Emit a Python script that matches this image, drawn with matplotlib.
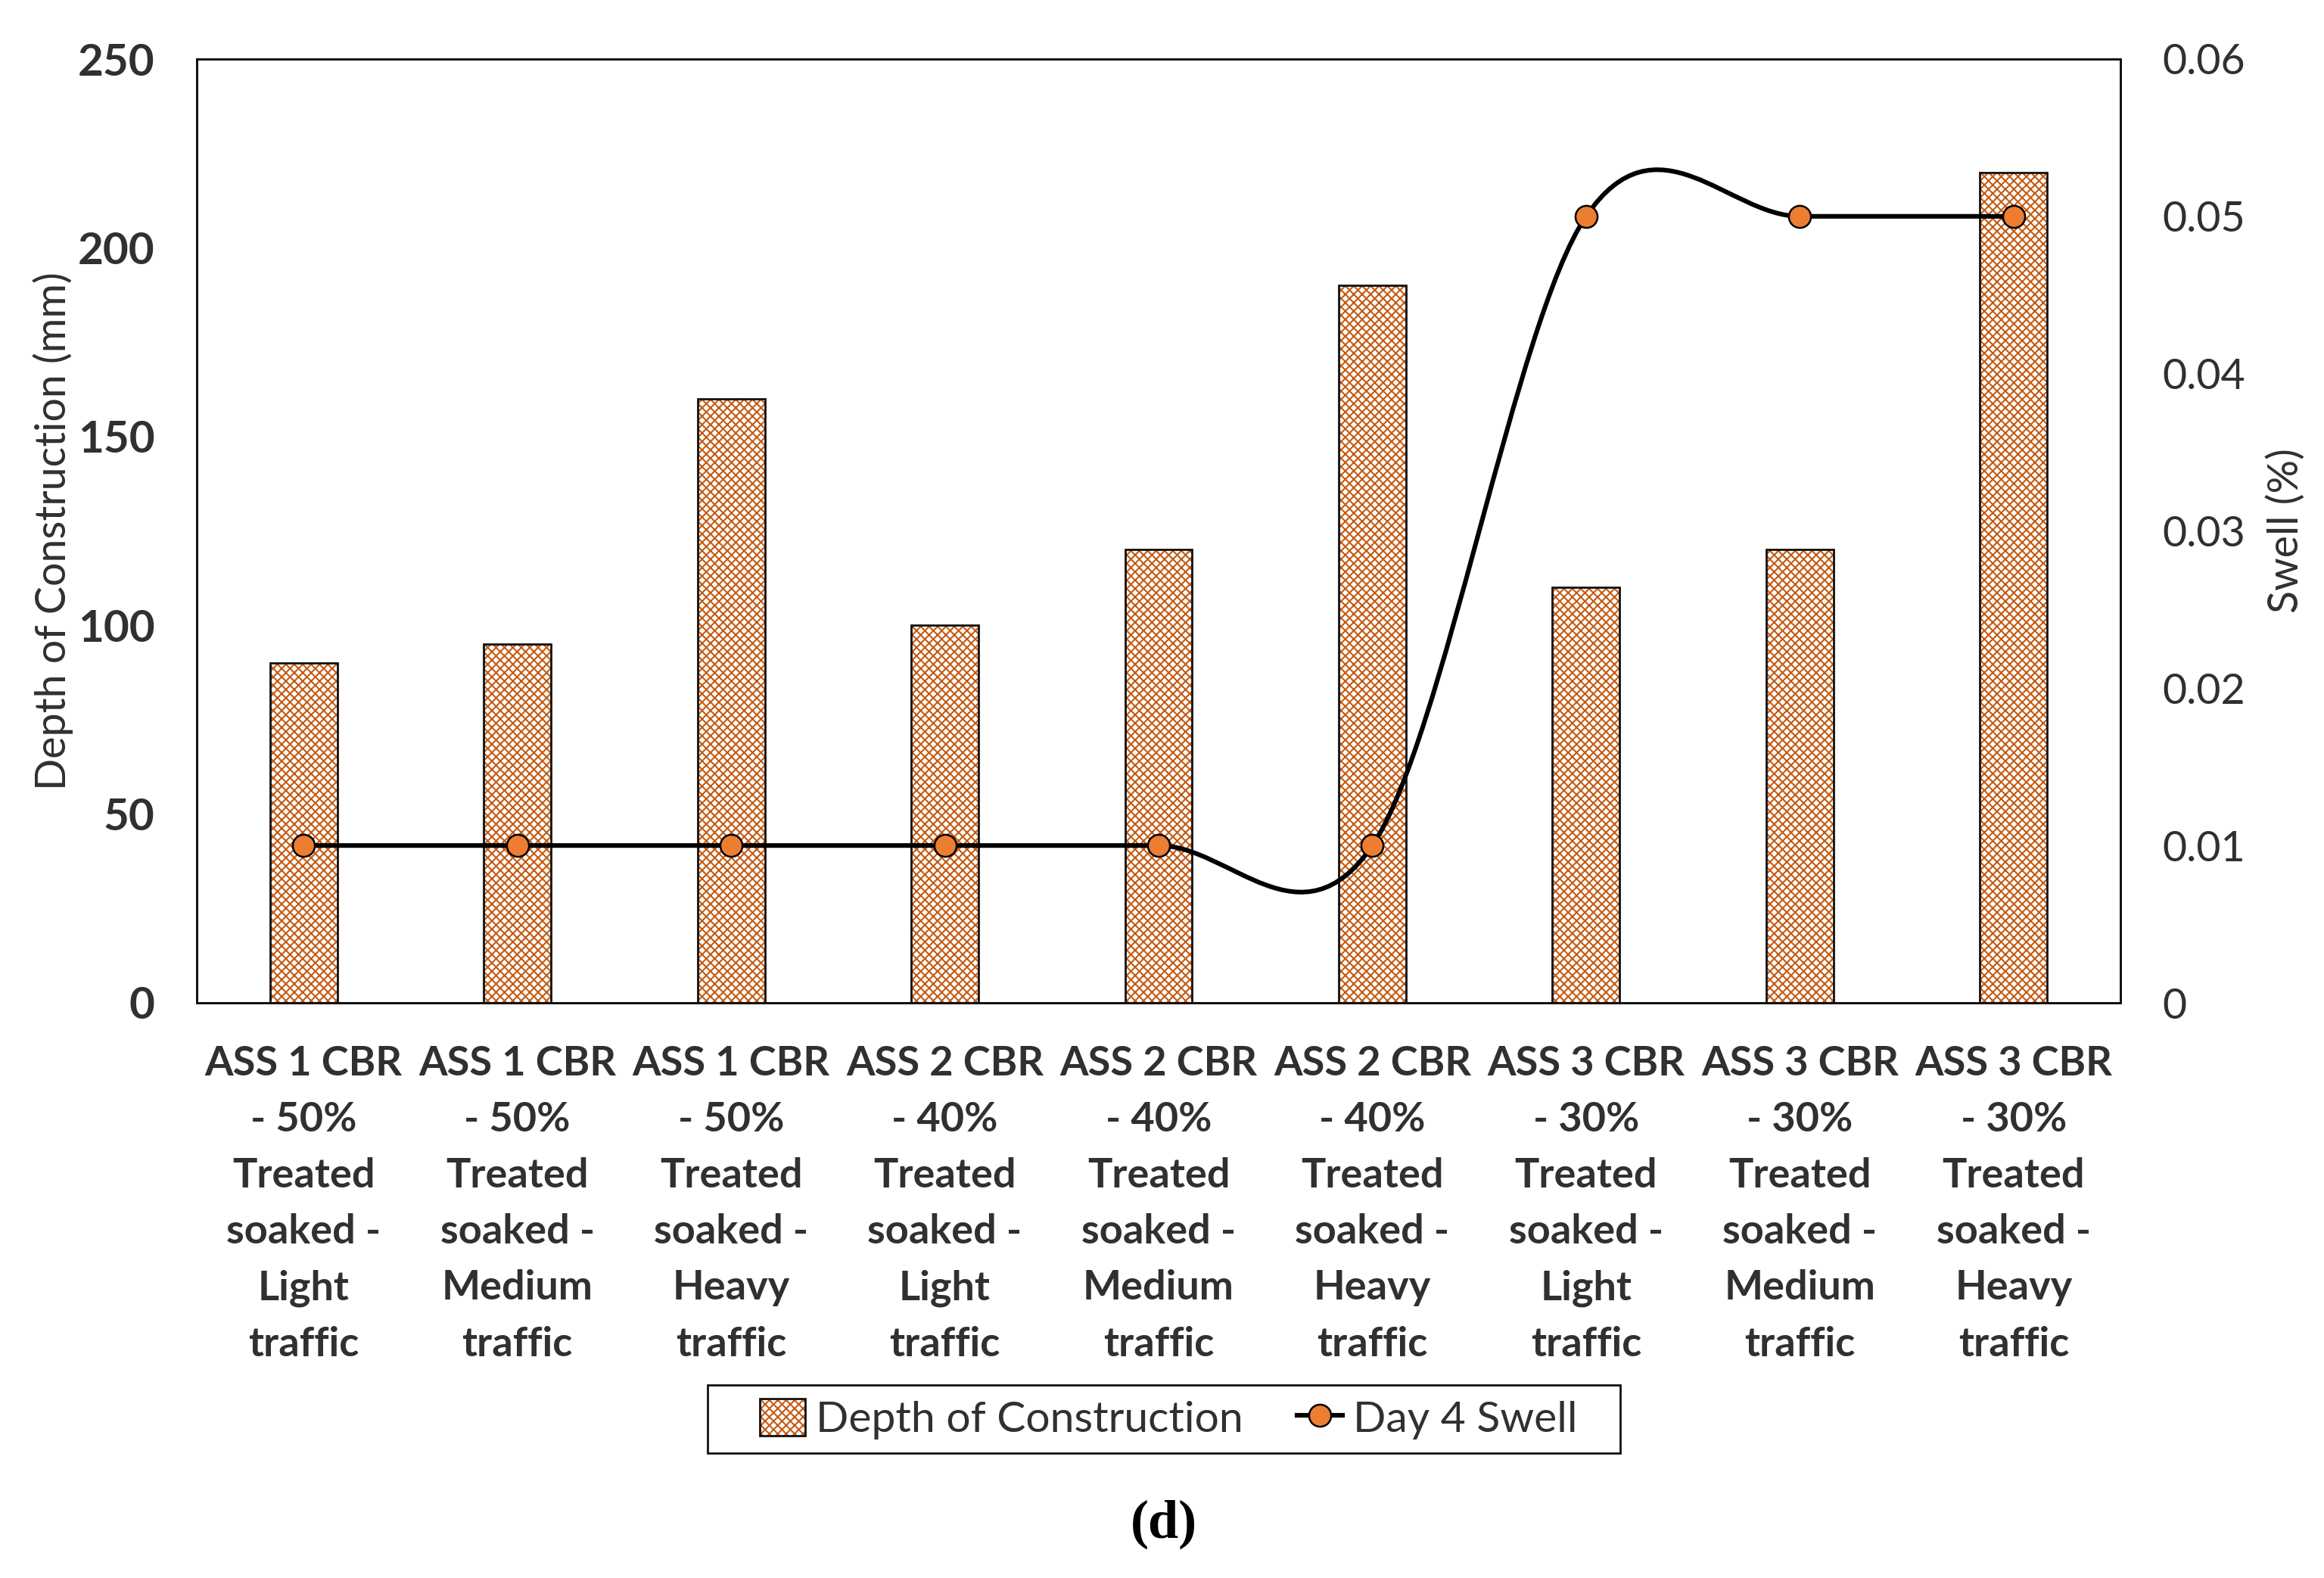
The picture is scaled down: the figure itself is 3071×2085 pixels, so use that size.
import matplotlib
matplotlib.use("Agg")
import matplotlib.pyplot as plt
from matplotlib.path import Path
from matplotlib.patches import PathPatch, Patch, Rectangle
from matplotlib.lines import Line2D
from matplotlib.legend_handler import HandlerTuple

categories = [
    "ASS 1 CBR\n- 50%\nTreated\nsoaked -\nLight\ntraffic",
    "ASS 1 CBR\n- 50%\nTreated\nsoaked -\nMedium\ntraffic",
    "ASS 1 CBR\n- 50%\nTreated\nsoaked -\nHeavy\ntraffic",
    "ASS 2 CBR\n- 40%\nTreated\nsoaked -\nLight\ntraffic",
    "ASS 2 CBR\n- 40%\nTreated\nsoaked -\nMedium\ntraffic",
    "ASS 2 CBR\n- 40%\nTreated\nsoaked -\nHeavy\ntraffic",
    "ASS 3 CBR\n- 30%\nTreated\nsoaked -\nLight\ntraffic",
    "ASS 3 CBR\n- 30%\nTreated\nsoaked -\nMedium\ntraffic",
    "ASS 3 CBR\n- 30%\nTreated\nsoaked -\nHeavy\ntraffic",
]
depth = [90, 95, 160, 100, 120, 190, 110, 120, 220]
swell = [0.01, 0.01, 0.01, 0.01, 0.01, 0.01, 0.05, 0.05, 0.05]
depth_ticks = [0, 50, 100, 150, 200, 250]
swell_ticks = [0, 0.01, 0.02, 0.03, 0.04, 0.05, 0.06]
swell_tick_labels = ["0", "0.01", "0.02", "0.03", "0.04", "0.05", "0.06"]

TXT = "#303030"
ORANGE = "#C55A11"
MARKER = "#ED7D31"
W, H = 3071, 2085
plt.rcParams["font.family"] = ["Lato", "DejaVu Sans"]
plt.rcParams["hatch.linewidth"] = 0.75


def smooth_path(xs, ys):
    # Excel-style smoothed line: cubic Bezier segments, Catmull-Rom tangents
    n = len(xs)
    verts = [(xs[0], ys[0])]
    codes = [Path.MOVETO]
    for i in range(n - 1):
        ip = max(i - 1, 0)
        inx = min(i + 2, n - 1)
        t0x = (xs[i + 1] - xs[ip]) / 2.0
        t0y = (ys[i + 1] - ys[ip]) / 2.0
        t1x = (xs[inx] - xs[i]) / 2.0
        t1y = (ys[inx] - ys[i]) / 2.0
        verts += [(xs[i] + t0x / 3, ys[i] + t0y / 3),
                  (xs[i + 1] - t1x / 3, ys[i + 1] - t1y / 3),
                  (xs[i + 1], ys[i + 1])]
        codes += [Path.CURVE4] * 3
    return Path(verts, codes)


fig = plt.figure(figsize=(15.355, 10.425), dpi=200)
ax = fig.add_axes([260 / W, 1 - 1325 / H, (2802 - 260) / W, (1325 - 78) / H])
ax2 = ax.twinx()

x = list(range(len(categories)))
bw = 0.315
bars = ax.bar(x, depth, width=bw, color="white", edgecolor=ORANGE,
              hatch="xxxxxx", linewidth=0, zorder=2)
outline = ax.bar(x, depth, width=bw, fill=False, edgecolor="#111111",
                 linewidth=1.0, zorder=3)

ax.set_xlim(-0.5, len(categories) - 0.5)
ax.set_ylim(0, 250)
ax.set_yticks(depth_ticks)
ax.set_yticklabels([str(t) for t in depth_ticks], fontweight="bold",
                   fontsize=21, color=TXT)
ax.set_xticks(x)
ax.set_xticklabels(categories, fontweight="bold", fontsize=19.5, color=TXT,
                   linespacing=1.63)
ax.tick_params(axis="both", length=0)
ax.tick_params(axis="y", pad=20)
ax.tick_params(axis="x", pad=20)
ax.set_ylabel("Depth of Construction (mm)", fontsize=20, color=TXT,
              labelpad=2)

ax2.set_ylim(0, 0.06)
ax2.set_yticks(swell_ticks)
ax2.set_yticklabels(swell_tick_labels, fontsize=20, color=TXT)
ax2.tick_params(axis="y", length=0, pad=20)
ax2.set_ylabel("Swell (%)", fontsize=20, color=TXT, labelpad=10)

ax2.add_patch(PathPatch(smooth_path(x, swell), facecolor="none",
                        edgecolor="black", linewidth=2.2, zorder=4))
ax2.plot(x, swell, linestyle="none", marker="o", markersize=10.5,
         markerfacecolor=MARKER, markeredgecolor="black",
         markeredgewidth=0.9, zorder=5)

for a in (ax, ax2):
    for s in a.spines.values():
        s.set_linewidth(1.0)
        s.set_color("#111111")

# legend (frame drawn separately so the padding matches)
h_bar = (Patch(facecolor="white", edgecolor=ORANGE, hatch="xxxxxx",
               linewidth=0),
         Patch(fill=False, edgecolor="#111111", linewidth=1.0))
h_line = Line2D([], [], color="black", linewidth=2.2, marker="o",
                markersize=10.5, markerfacecolor=MARKER,
                markeredgecolor="black", markeredgewidth=0.9)
leg = fig.legend([h_bar, h_line], ["Depth of Construction", "Day 4 Swell"],
                 handler_map={tuple: HandlerTuple(ndivide=1, pad=0)},
                 loc="center", bbox_to_anchor=(1544 / W, 1 - 1875 / H),
                 ncol=2, fontsize=20.5, frameon=False,
                 handlelength=1.05, handleheight=0.95, handletextpad=0.25,
                 columnspacing=1.25, borderpad=0.3, borderaxespad=0)
for t in leg.get_texts():
    t.set_color(TXT)
fig.patches.append(Rectangle((935 / W, 1 - 1920 / H), (2141 - 935) / W,
                             90 / H, transform=fig.transFigure, fill=False,
                             edgecolor="#111111", linewidth=1.0))

fig.text(1538 / W, 1 - 2014 / H, "(d)", fontsize=26,
         fontweight="bold", family=["Liberation Serif", "DejaVu Serif"],
         ha="center", va="center", color="black")

fig.savefig("out.png", dpi=200, facecolor="white")
